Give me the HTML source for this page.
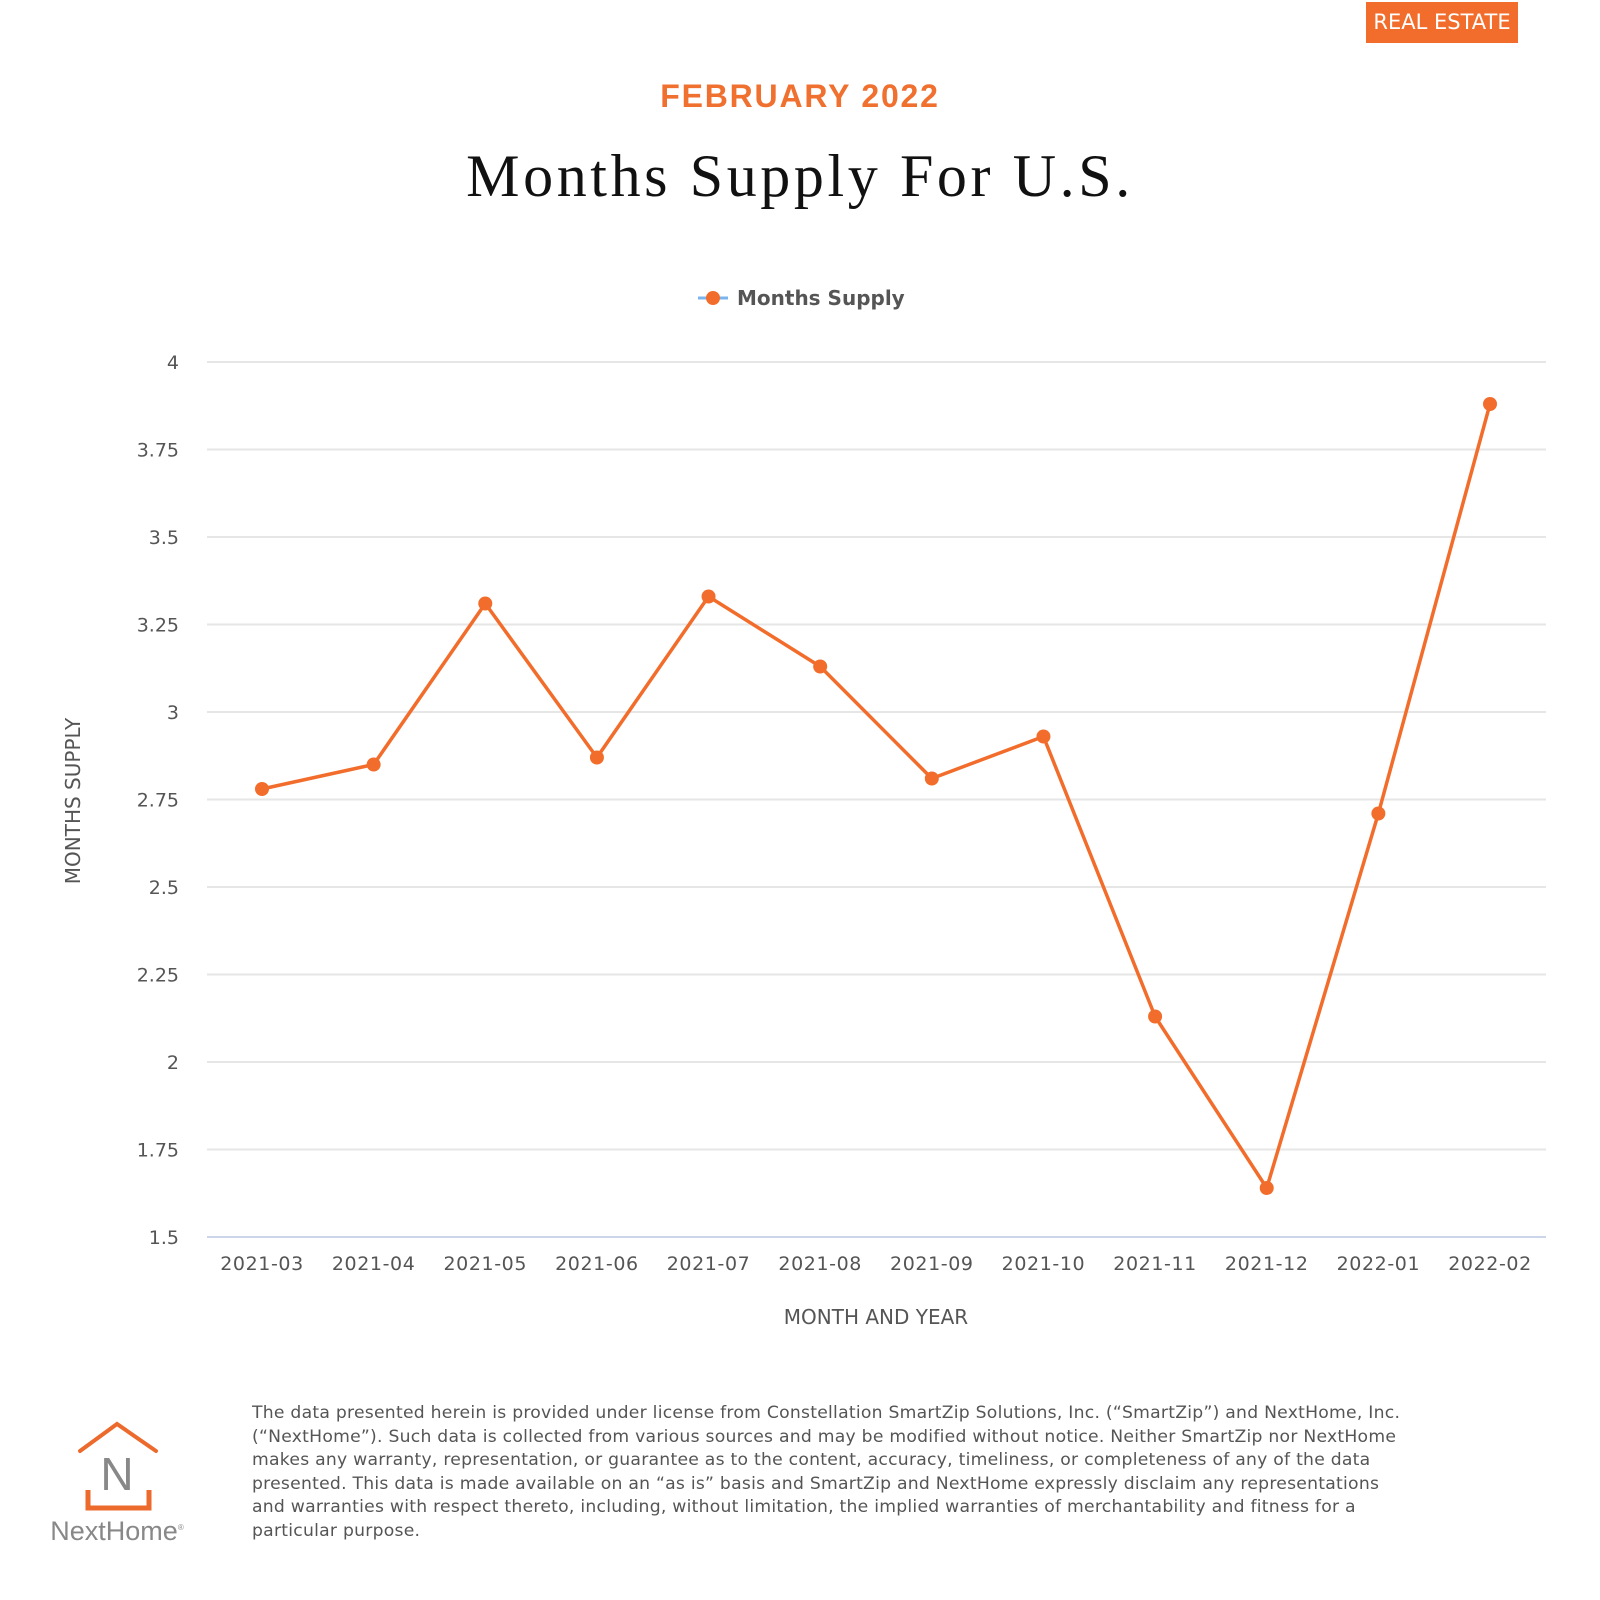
<!DOCTYPE html>
<html><head><meta charset="utf-8"><style>
body{margin:0;width:1600px;height:1600px;background:#fff;position:relative;overflow:hidden;font-family:"DejaVu Sans","Liberation Sans",sans-serif}
.abs{position:absolute}
</style></head><body>
<div class="abs" style="left:1366px;top:2px;width:152px;height:41px;background:#f26d2b;color:#fff;font-size:21px;line-height:41px;text-align:center;font-family:'DejaVu Sans',sans-serif">REAL ESTATE</div>
<div class="abs" style="left:0;width:1600px;top:78px;text-align:center;color:#f07030;font:bold 32px 'Liberation Sans',sans-serif;letter-spacing:1.8px">FEBRUARY 2022</div>
<div class="abs" style="left:0;width:1600px;top:142px;text-align:center;color:#111;font:60px 'Liberation Serif',serif;letter-spacing:3.6px">Months Supply For U.S.</div>
<svg class="abs" style="left:0;top:0" width="1600" height="1600">
<g id="grid"></g><g id="series"></g><g id="labels"></g>
<g>
<line x1="698" y1="298" x2="728" y2="298" stroke="#7cb5ec" stroke-width="3"/>
<circle cx="713" cy="298" r="7" fill="#f26d2b"/>
<text x="737" y="305" font-size="20" font-weight="bold" fill="#555" font-family="DejaVu Sans,sans-serif">Months Supply</text>
</g>
<text x="876" y="1324" font-size="20" fill="#555" text-anchor="middle" font-family="DejaVu Sans,sans-serif">MONTH AND YEAR</text>
<text transform="translate(80,801) rotate(-90)" font-size="20" fill="#555" text-anchor="middle" font-family="DejaVu Sans,sans-serif">MONTHS SUPPLY</text>
</svg>
<svg class="abs" style="left:0;top:1400px" width="220" height="160">
<polyline points="80,51 117,24 156,51" fill="none" stroke="#ec6a2c" stroke-width="4" stroke-linecap="round"/>
<text x="117" y="90" font-size="46" fill="#888" text-anchor="middle" font-family="Liberation Sans,sans-serif">N</text>
<polyline points="88,90 88,108 149,108 149,90" fill="none" stroke="#ec6a2c" stroke-width="5"/>
<text x="117" y="140" font-size="27" fill="#888" text-anchor="middle" font-family="Liberation Sans,sans-serif">NextHome<tspan font-size="8" dy="-10">®</tspan></text>
</svg>
<div class="abs" style="left:252px;top:1402px;width:1160px;font-size:17.2px;line-height:23.5px;color:#555;letter-spacing:0.25px">The data presented herein is provided under license from Constellation SmartZip Solutions, Inc. (“SmartZip”) and NextHome, Inc. (“NextHome”). Such data is collected from various sources and may be modified without notice. Neither SmartZip nor NextHome makes any warranty, representation, or guarantee as to the content, accuracy, timeliness, or completeness of any of the data presented. This data is made available on an “as is” basis and SmartZip and NextHome expressly disclaim any representations and warranties with respect thereto, including, without limitation, the implied warranties of merchantability and fitness for a particular purpose.</div>
<script>
const categories=["2021-03","2021-04","2021-05","2021-06","2021-07","2021-08","2021-09","2021-10","2021-11","2021-12","2022-01","2022-02"];
const monthsSupply=[2.78,2.85,3.31,2.87,3.33,3.13,2.81,2.93,2.13,1.64,2.71,3.88];
const yTicks=[1.5,1.75,2,2.25,2.5,2.75,3,3.25,3.5,3.75,4];
const yTickLabels=["1.5","1.75","2","2.25","2.5","2.75","3","3.25","3.5","3.75","4"];
const NS="http://www.w3.org/2000/svg";
const L=207,R=1546,T=362,B=1237,yMin=1.5,yMax=4;
const xs=i=>262+i*(1490-262)/(categories.length-1);
const ys=v=>B-(v-yMin)/(yMax-yMin)*(B-T);
function mk(tag,attrs,parent){const e=document.createElementNS(NS,tag);for(const k in attrs)e.setAttribute(k,attrs[k]);parent.appendChild(e);return e;}
const grid=document.getElementById('grid'),ser=document.getElementById('series'),lab=document.getElementById('labels');
yTicks.forEach((t,i)=>{
 const ln=mk('line',{x1:L,x2:R,y1:ys(t),y2:ys(t),stroke:i==0?'#ccd6eb':'#e6e6e6','stroke-width':2},grid);
 
 
 const tx=mk('text',{x:179,y:ys(t)+7,'text-anchor':'end','font-size':19,fill:'#555','font-family':'DejaVu Sans,sans-serif'},lab);
 tx.textContent=yTickLabels[i];
 
 
});
categories.forEach((c,i)=>{
 const tx=mk('text',{x:xs(i),y:1270,'text-anchor':'middle','font-size':19,fill:'#555','font-family':'DejaVu Sans,sans-serif','letter-spacing':'0.6'},lab);
 tx.textContent=c;
 
 
});
const pl=mk('polyline',{points:monthsSupply.map((v,i)=>xs(i)+','+ys(v)).join(' '),fill:'none',stroke:'#f26d2b','stroke-width':3.5,'stroke-linejoin':'round'},ser);


monthsSupply.forEach((v,i)=>{
 const c=mk('circle',{cx:xs(i),cy:ys(v),r:7,fill:'#f26d2b'},ser);
 
 
});
</script>
</body></html>
